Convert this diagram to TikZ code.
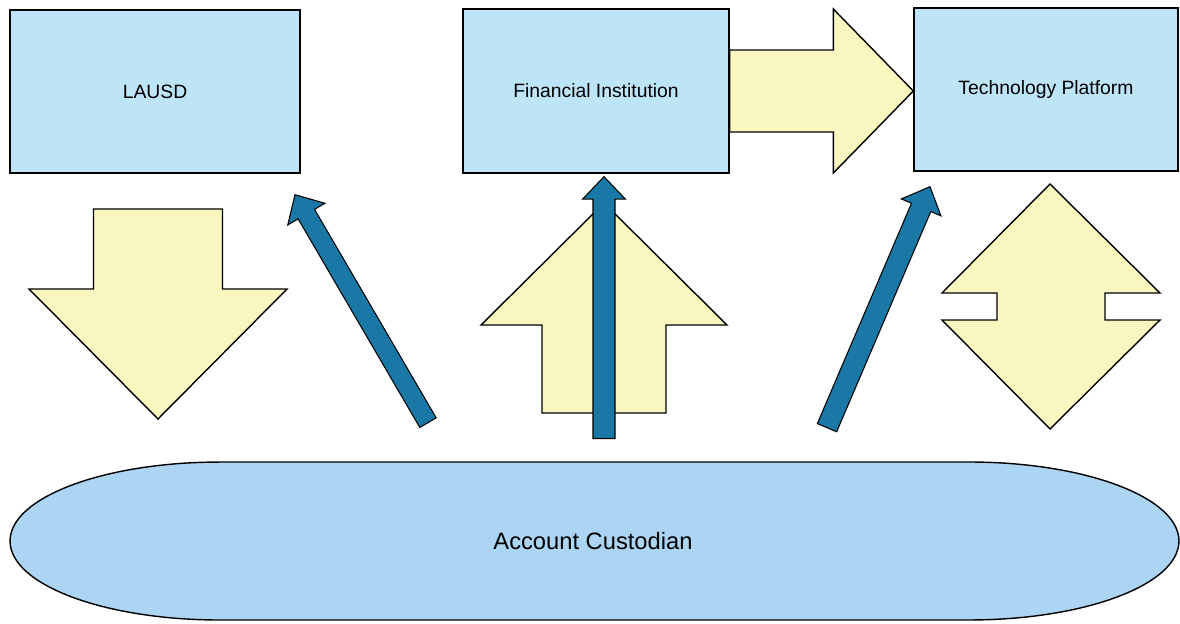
\documentclass[tikz,border=0pt]{standalone}
\usepackage{fontspec}
\setmainfont{Liberation Sans}
\usetikzlibrary{calc, shapes}

\definecolor{boxblue}{RGB}{190, 228, 248}
\definecolor{custblue}{RGB}{172, 213, 243}
\definecolor{padyellow}{RGB}{250, 246, 192}
\definecolor{linkblue}{RGB}{26, 120, 166}

\begin{document}
\begin{tikzpicture}[x = 0.02cm, y = -0.02cm,
        party/.style = {draw = black, thick, fill = boxblue, align = center, font = \fontsize{11}{13}\selectfont},
        flow/.style = {draw = black, thick, fill = padyellow},
        link/.style = {draw = black, semithick, fill = linkblue}]
    \useasboundingbox (0, 0) rectangle (1180, 623);

    \node[party, minimum width = 5.8cm, minimum height = 3.26cm] (lausd) at (155, 91.5) {LAUSD};
    \node[party, minimum width = 5.32cm, minimum height = 3.28cm] (bank) at (596, 91) {Financial Institution};
    \node[party, minimum width = 5.28cm, minimum height = 3.26cm] (tech) at (1046, 89.5) {Technology Platform};

    % long oval behind the custodian
    \draw[black, thick, fill = custblue] (220, 462) -- (969, 462)
        arc[start angle = 90, end angle = -90, x radius = 4.2cm, y radius = 1.58cm] -- (220, 620)
        arc[start angle = 270, end angle = 90, x radius = 4.2cm, y radius = 1.58cm] -- cycle;
    \node[minimum width = 23.4cm, minimum height = 3.16cm, font = \fontsize{13.5}{16}\selectfont] (custodian) at (593, 541) {Account Custodian};

    % big yellow arrows
    \coordinate (down_tail) at (158, 209);
    \coordinate (down_tip) at (158, 419);
    \coordinate (up_tail) at (604, 413);
    \coordinate (up_tip) at (604, 203);
    \coordinate (right_tail) at (bank.east);
    \coordinate (right_tip) at (bank.east -| tech.west);

    \foreach \tail/\tip/\shaft/\head/\len in {down_tail/down_tip/1.29cm/2.58cm/2.6cm,
            up_tail/up_tip/1.24cm/2.46cm/2.44cm, right_tail/right_tip/0.82cm/1.64cm/1.6cm} {
        \coordinate (head_base) at ($(\tip)!\len!(\tail)$);
        \draw[flow] ($(\tail)!\shaft!90:(\tip)$) -- ($(head_base)!\shaft!90:(\tip)$) -- ($(head_base)!\head!90:(\tip)$) -- (\tip)
            -- ($(head_base)!\head!-90:(\tip)$) -- ($(head_base)!\shaft!-90:(\tip)$) -- ($(\tail)!\shaft!-90:(\tip)$) -- cycle;
    }

    \draw[flow] (1050, 184) -- (1160, 293) -- (1105, 293) -- (1105, 320) -- (1160, 320) -- (1050, 429)
        -- (942, 320) -- (997, 320) -- (997, 293) -- (942, 293) -- cycle;

    % blue links from the custodian
    \coordinate (link_a_tail) at ($(custodian.north) + (-165, -39)$);
    \coordinate (link_a_tip) at ($(lausd.south) + (140, 21)$);
    \coordinate (link_b_tail) at ($(custodian.north) + (11, -23)$);
    \coordinate (link_b_tip) at ($(bank.south) + (8, 3)$);
    \coordinate (link_c_tail) at ($(custodian.north) + (234, -34)$);
    \coordinate (link_c_tip) at ($(tech.south) + (-116, 15)$);

    \foreach \tail/\tip/\shaft in {link_a_tail/link_a_tip/0.19cm, link_b_tail/link_b_tip/0.22cm, link_c_tail/link_c_tip/0.21cm} {
        \coordinate (head_base) at ($(\tip)!0.45cm!(\tail)$);
        \draw[link] ($(\tail)!\shaft!90:(\tip)$) -- ($(head_base)!\shaft!90:(\tip)$) -- ($(head_base)!0.43cm!90:(\tip)$) -- (\tip)
            -- ($(head_base)!0.43cm!-90:(\tip)$) -- ($(head_base)!\shaft!-90:(\tip)$) -- ($(\tail)!\shaft!-90:(\tip)$) -- cycle;
    }
\end{tikzpicture}
\end{document}
